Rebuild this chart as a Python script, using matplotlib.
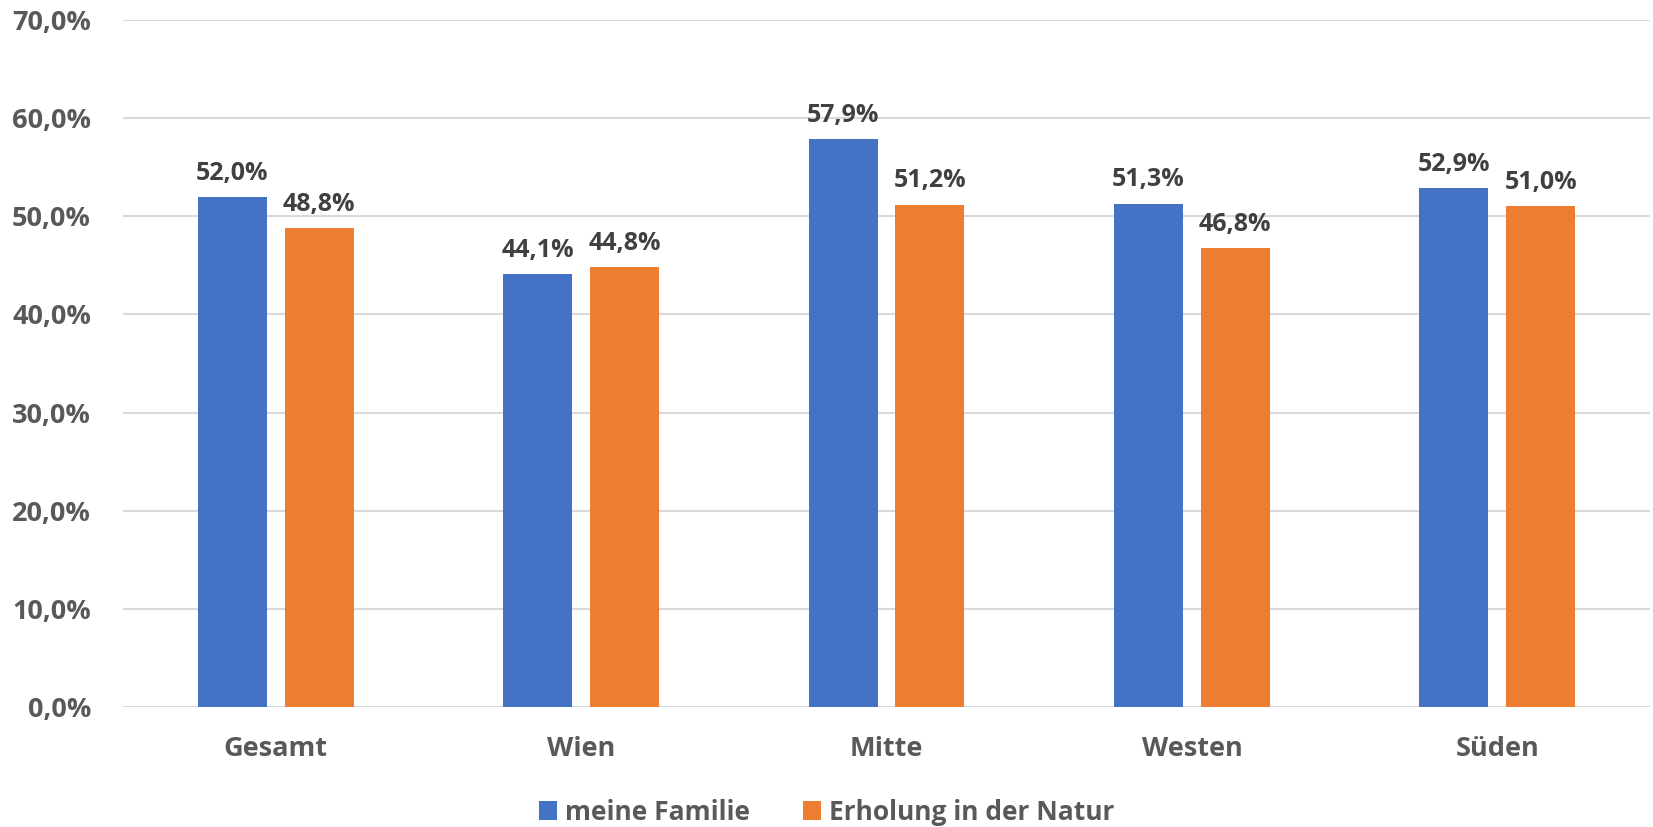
import numpy as np
import matplotlib.pyplot as plt
from matplotlib.ticker import FuncFormatter

categories = ['Gesamt', 'Wien', 'Mitte', 'Westen', 'Süden']
familie = [52.0, 44.1, 57.9, 51.3, 52.9]
natur = [48.8, 44.8, 51.2, 46.8, 51.0]
series_names = ['meine Familie', 'Erholung in der Natur']

blue = '#4472C4'
orange = '#ED7D31'
grey = '#595959'
dark = '#404040'

plt.rcParams['font.family'] = ['Open Sans', 'DejaVu Sans']
plt.rcParams['font.weight'] = 'bold'

fig = plt.figure(figsize=(16.53, 8.27), dpi=100)
ax = fig.add_axes([123 / 1653, 1 - 707 / 827, (1650 - 123) / 1653, (707 - 20) / 827])

x = np.arange(len(categories))
w = 0.226
off = 0.142
b1 = ax.bar(x - off, familie, w, color=blue, label=series_names[0], zorder=3)
b2 = ax.bar(x + off, natur, w, color=orange, label=series_names[1], zorder=3)

# value labels above the bars
for bars in (b1, b2):
    for rect in bars:
        h = rect.get_height()
        ax.annotate(f'{h:.1f}%'.replace('.', ','), (rect.get_x() + rect.get_width() / 2, h),
                    xytext=(0, 8), textcoords='offset points', ha='center', va='bottom',
                    fontsize=18, fontweight='bold', color=dark)

ax.set_xlim(-0.5, len(categories) - 0.5)
ax.set_ylim(0, 70)
ax.set_yticks(np.arange(0, 71, 10))
ax.yaxis.set_major_formatter(FuncFormatter(lambda v, p: f'{v:.1f}%'.replace('.', ',')))
ax.set_xticks(x)
ax.set_xticklabels(categories)
ax.tick_params(axis='both', length=0, labelsize=19.5, labelcolor=grey)
ax.tick_params(axis='x', pad=21)
ax.tick_params(axis='y', pad=23)
for lab in ax.get_xticklabels() + ax.get_yticklabels():
    lab.set_fontweight('bold')

ax.grid(axis='y', color='#D9D9D9', linewidth=1.5, zorder=0)
for s in ax.spines.values():
    s.set_visible(False)

leg = fig.legend(loc='center', bbox_to_anchor=(0.5, 1 - 812 / 827), ncol=2, frameon=False,
                 fontsize=19, handlelength=0.7, handleheight=0.7, handletextpad=0.3,
                 columnspacing=2.0)
for t in leg.get_texts():
    t.set_color(grey)
    t.set_fontweight('bold')

fig.savefig('out.png', dpi=100)
